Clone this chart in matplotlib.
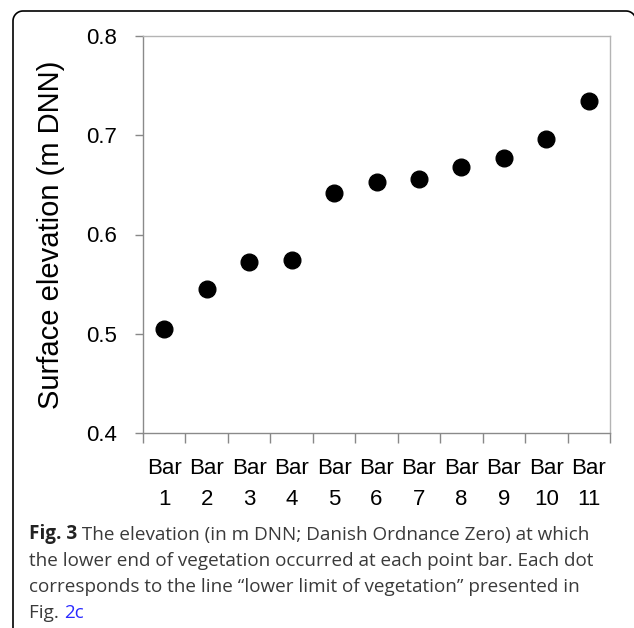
import matplotlib
matplotlib.use("Agg")
import matplotlib.pyplot as plt
from matplotlib.lines import Line2D
from matplotlib.transforms import IdentityTransform
import numpy as np

# values
bars = ["Bar\n1", "Bar\n2", "Bar\n3", "Bar\n4", "Bar\n5", "Bar\n6",
        "Bar\n7", "Bar\n8", "Bar\n9", "Bar\n10", "Bar\n11"]
elevation = [0.505, 0.545, 0.572, 0.574, 0.642, 0.653, 0.656, 0.668, 0.677, 0.696, 0.735]
y_ticks = [0.4, 0.5, 0.6, 0.7, 0.8]

W, H = 634, 628
fig = plt.figure(figsize=(W / 100, H / 100), dpi=100)
ax = fig.add_axes([143 / W, 1 - 433 / H, (610 - 143) / W, (433 - 36) / H])

x = np.arange(len(bars)) + 1
ax.plot(x, elevation, "o", color="black", markersize=12, linestyle="none")

ax.set_xlim(0.5, len(bars) + 0.5)
ax.set_ylim(0.4, 0.8)
ax.set_yticks(y_ticks)
ax.set_yticklabels(["%.1f" % v for v in y_ticks])

# labels at category centres, tick marks at the boundaries
ax.set_xticks(x)
ax.set_xticklabels(bars, family="Liberation Sans", fontsize=16, linespacing=1.6)
ax.set_xticks(np.arange(len(bars) + 1) + 0.5, minor=True)
ax.tick_params(axis="x", which="major", length=0, pad=18)
ax.tick_params(axis="x", which="minor", length=7, width=1, color="#888888")
ax.tick_params(axis="y", length=6, width=1, color="#888888", pad=13)
for lab in ax.get_yticklabels():
    lab.set_family("Liberation Sans")
    lab.set_fontsize(16)

for side in ["left", "bottom"]:
    ax.spines[side].set_color("#8a8a8a")
    ax.spines[side].set_linewidth(1.0)
for side in ["top", "right"]:
    ax.spines[side].set_color("#b4b4b4")
    ax.spines[side].set_linewidth(1.0)

ax.set_ylabel("Surface elevation (m DNN)", family="Liberation Sans", fontsize=21, va="center")
ax.yaxis.set_label_coords(-0.197, 0.5)

# rounded frame around the figure (pixel coords, y up), cut by the picture edges
left, right, top, r = 13, 636, H - 11, 10
a = np.linspace(0, np.pi / 2, 20)
fx = np.concatenate([[left], left + r - r * np.cos(a), right - r + r * np.sin(a), [right]])
fy = np.concatenate([[-20], top - r + r * np.sin(a), top - r + r * np.cos(a), [-20]])
fig.add_artist(Line2D(fx, fy, transform=IdentityTransform(), color="black", linewidth=1.2))

# caption
cap_font = ["Open Sans", "DejaVu Sans"]
cap_size = 13.6
cap_col = "#3a3a3a"
x0 = 29 / W
base = [539, 565.5, 592, 618.5]

t1 = fig.text(x0, 1 - base[0] / H, "Fig. 3", family=cap_font, fontsize=cap_size,
              weight="bold", color="#222222", va="baseline")
fig.add_artist(plt.Annotation(" The elevation (in m DNN; Danish Ordnance Zero) at which",
                              xy=(1, 0), xycoords=t1, va="bottom", family=cap_font,
                              fontsize=cap_size, color=cap_col))
fig.text(x0, 1 - base[1] / H, "the lower end of vegetation occurred at each point bar. Each dot",
         family=cap_font, fontsize=cap_size, color=cap_col, va="baseline")
fig.text(x0, 1 - base[2] / H, "corresponds to the line \u201clower limit of vegetation\u201d presented in",
         family=cap_font, fontsize=cap_size, color=cap_col, va="baseline")
t4 = fig.text(x0, 1 - base[3] / H, "Fig. ", family=cap_font, fontsize=cap_size,
              color=cap_col, va="baseline")
fig.add_artist(plt.Annotation("2c", xy=(1, 0), xycoords=t4, va="bottom", family=cap_font,
                              fontsize=cap_size, color="#2a2aff"))

fig.savefig("out.png", dpi=100)
